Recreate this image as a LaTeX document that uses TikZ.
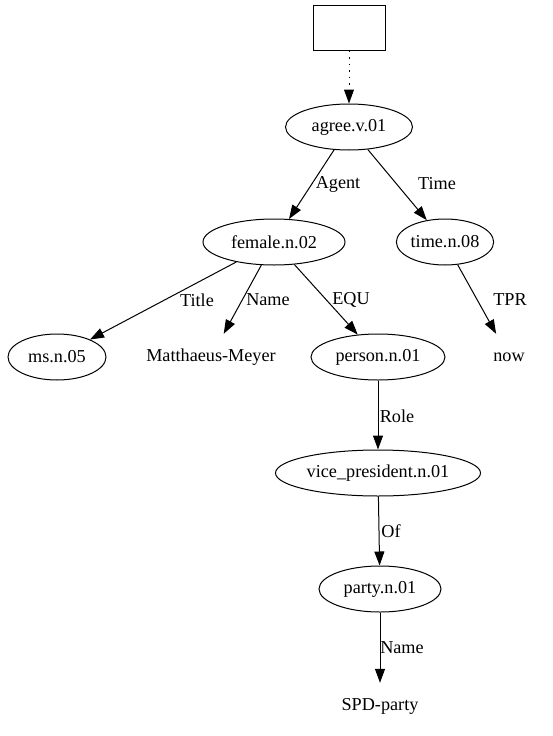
\documentclass[tikz,border=0pt]{standalone}
\usepackage{fontspec}
\setmainfont{Liberation Serif}
\usetikzlibrary{shapes.geometric, arrows.meta}

\begin{document}
\begin{tikzpicture}[x=1pt,y=-1pt,
    every node/.style={font=\fontsize{18.2}{21}\selectfont},
    sense/.style={draw,ellipse,line width=1pt,minimum height=46pt,inner sep=0pt},
    word/.style={minimum height=46pt,inner sep=0pt},
    rel/.style={-{Triangle[length=14pt,width=10pt]},line width=1pt},
    lbl/.style={inner sep=0pt}]
    \useasboundingbox (0,0) rectangle (552,736);
    % top box
    \node[draw,line width=1pt,minimum width=72pt,minimum height=45pt] (box) at (349,27.5) {};
    % senses
    \node[sense,minimum width=127pt] (agree) at (349,127) {agree.v.01};
    \node[sense,minimum width=142pt] (female) at (274,242) {female.n.02};
    \node[sense,minimum width=74pt] (time) at (445,242) {time.n.08};
    \node[sense,minimum width=98pt] (ms) at (57,357) {ms.n.05};
    \node[sense,minimum width=134pt] (person) at (378,357) {person.n.01};
    \node[sense,minimum width=205pt] (vp) at (378,473) {vice\_president.n.01};
    \node[sense,minimum width=122pt] (party) at (380,589) {party.n.01};
    % plain words
    \node[word] (mm) at (211,357) {Matthaeus-Meyer};
    \node[word] (now) at (509,357) {now};
    \node[word] (spd) at (380,706) {SPD-party};
    % edges
    \draw[rel,dash pattern=on 1.5pt off 5pt] (box) -- (agree);
    \draw[rel] (agree) -- (female);
    \draw[rel] (agree) -- (time);
    \draw[rel] (female) -- (ms);
    \draw[rel] (female) -- (mm);
    \draw[rel] (female) -- (person);
    \draw[rel] (time) -- (now);
    \draw[rel] (person) -- (vp);
    \draw[rel] (vp) -- (party);
    \draw[rel] (party) -- (spd);
    % edge labels
    \node[lbl] (lagent) at (338,184) {Agent};
    \node[lbl] (ltime) at (437,184) {Time};
    \node[lbl] (ltitle) at (197,300) {Title};
    \node[lbl] (lname) at (268,300) {Name};
    \node[lbl] (lequ) at (351,300) {EQU};
    \node[lbl] (ltpr) at (510,300) {TPR};
    \node[lbl] (lrole) at (397,416) {Role};
    \node[lbl] (lof) at (391,531) {Of};
    \node[lbl] (lname2) at (402,648) {Name};
\end{tikzpicture}
\end{document}
